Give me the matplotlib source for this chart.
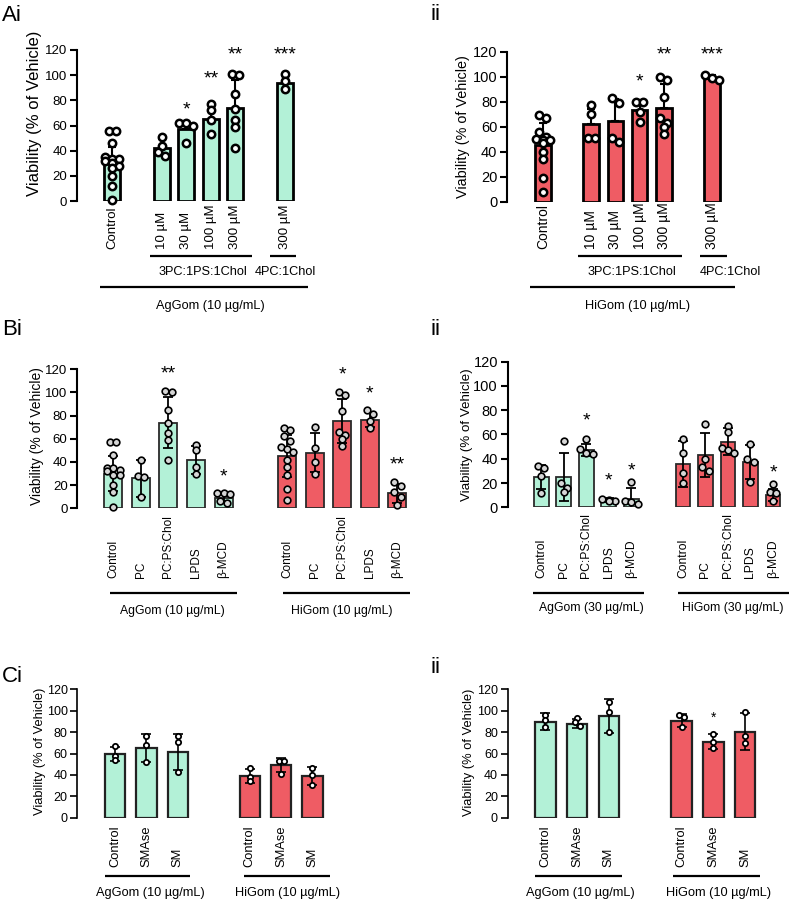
import matplotlib.pyplot as plt
from matplotlib.transforms import blended_transform_factory

plt.rcParams['font.family'] = ['Liberation Sans', 'DejaVu Sans']

W, H = 790, 901
MINT = '#b3f1d7'
RED = '#ef5c64'

# ---------------- data ----------------
a_labels = ['Control', '10 µM', '30 µM', '100 µM', '300 µM', '300 µM']
a_pos = [0, 2, 3, 4, 5, 7]

ai_mean = [30, 42, 57, 65, 74, 94]
ai_sd = [13, 7, 6, 11, 22, 6]
ai_pts = [[56, 56, 46, 35, 33, 33, 32, 30, 28, 26, 20, 12, 1],
          [51, 44, 39, 36],
          [62, 62, 60, 46],
          [77, 72, 64, 53],
          [101, 100, 85, 73, 64, 59, 42],
          [101, 95, 89]]
ai_stars = ['', '', '*', '**', '**', '***']
ai_star_y = [0, 0, 72, 97, 116, 116]

aii_mean = [45, 62, 64.5, 73, 75, 99]
aii_sd = [18, 12, 18, 8, 19, 2]
aii_pts = [[69, 67, 56, 52, 50, 49, 49, 47, 40, 34, 19, 8],
           [77, 70, 51, 51],
           [83, 79, 51, 48],
           [80, 80, 72, 64],
           [100, 97, 84, 67, 63, 60, 54],
           [101, 99, 97]]
aii_stars = ['', '', '', '*', '**', '***']
aii_star_y = [0, 0, 0, 96, 117, 117]

b_labels = ['Control', 'PC', 'PC:PS:Chol', 'LPDS', 'β-MCD'] * 2
b_pos = [0, 1, 2, 3, 4, 6.3, 7.3, 8.3, 9.3, 10.3]

bi_mean = [30, 26, 74, 42, 9, 45, 48, 75, 76, 13]
bi_sd = [15, 16, 22, 12, 3, 18, 17, 19, 6, 8]
bi_pts = [[57, 57, 46, 35, 35, 33, 32, 29, 29, 20, 14, 1],
          [42, 28, 27, 10],
          [101, 100, 85, 74, 65, 59, 42],
          [55, 50, 36, 30],
          [13, 13, 12, 6, 5],
          [69, 68, 62, 58, 53, 51, 49, 42, 36, 29, 17, 7],
          [70, 52, 40, 30],
          [100, 98, 84, 66, 63, 60, 54],
          [85, 81, 75, 69],
          [23, 19, 14, 10, 3]]
bi_stars = ['', '', '**', '', '*', '', '', '*', '*', '**']
bi_star_y = [0, 0, 116, 0, 27, 0, 0, 115, 99, 37]

bii_mean = [25, 25, 47, 6, 7, 36, 43, 54, 37, 10]
bii_sd = [10, 20, 5, 1.5, 9, 19, 18, 11, 14, 5]
bii_pts = [[34, 32, 26, 12],
           [55, 20, 16, 13],
           [56, 48, 45, 44],
           [7, 6, 5, 5],
           [21, 5, 4, 3],
           [56, 45, 28, 20],
           [69, 40, 33, 30],
           [67, 62, 49, 47, 45],
           [52, 40, 37, 21],
           [19, 13, 12, 5]]
bii_stars = ['', '', '*', '*', '*', '', '', '', '', '*']
bii_star_y = [0, 0, 71, 22, 30, 0, 0, 0, 0, 28]

c_labels = ['Control', 'SMAse', 'SM'] * 2
c_pos = [0, 1, 2, 4.3, 5.3, 6.3]

ci_mean = [59.5, 65, 61.5, 39, 49, 39]
ci_sd = [6.5, 13, 16.5, 6.5, 6.5, 8.6]
ci_pts = [[67, 58, 54], [76, 68, 52], [76, 71, 43],
          [46, 38, 34], [53, 53, 41], [46, 40, 31]]
ci_stars = ['', '', '', '', '', '']
ci_star_y = [0, 0, 0, 0, 0, 0]

cii_mean = [89.5, 88, 95, 90.5, 71, 80.5]
cii_sd = [8, 4, 15.6, 6, 7, 17]
cii_pts = [[96, 91, 85], [93, 89, 86], [108, 99, 80],
           [96, 94, 85], [78, 71, 65], [99, 76, 70]]
cii_stars = ['', '', '', '', '*', '']
cii_star_y = [0, 0, 0, 0, 93, 0]

fig = plt.figure(figsize=(W / 100, H / 100), dpi=100)


def fy(ypx):
    return 1 - ypx / H


def spread(vals, xstep, vstep):
    # group points of similar value (max 3) and lay each group out side by side
    order = sorted(range(len(vals)), key=lambda i: -vals[i])
    groups, cur = [], []
    for i in order:
        if cur and (vals[cur[0]] - vals[i] > vstep * 0.75 or len(cur) == 3):
            groups.append(cur)
            cur = []
        cur.append(i)
    groups.append(cur)
    offs = [0] * len(vals)
    for g in groups:
        k = len(g)
        for j, i in enumerate(g):
            offs[i] = (j - (k - 1) / 2) * xstep * 0.95
    return offs


def panel(geo, pos, labels, mean, sd, pts, stars, star_y, colors, st):
    xax, y0, y120, step, xmin, xmax = geo
    ax = fig.add_axes([xax / W, fy(y0), (xmax - xmin) * step / W, (y0 - y120) / H])
    ax.set_xlim(xmin, xmax)
    ax.set_ylim(0, 120)
    for s in ['top', 'right', 'bottom']:
        ax.spines[s].set_visible(False)
    ax.spines['left'].set_linewidth(st['spine'])
    ax.set_yticks(range(0, 121, 20))
    ax.tick_params(axis='y', length=5, width=st['spine'], pad=2, labelsize=st['tick'])
    ax.set_xticks([])

    ax.bar(pos, mean, width=0.65, color=colors, edgecolor=st['edge'],
           linewidth=st['blw'], zorder=2)
    if st['up_only']:
        yerr = [[0] * len(sd), sd]
    else:
        yerr = sd
    ax.errorbar(pos, mean, yerr=yerr, fmt='none', ecolor='black',
                elinewidth=st['elw'], capsize=st['cap'], capthick=st['elw'], zorder=3)

    mpx = st['ms'] * 100 / 72
    xstep = mpx / step
    vstep = mpx / ((y0 - y120) / 120)
    for x, p in zip(pos, pts):
        offs = spread(p, xstep, vstep)
        ax.plot([x + o for o in offs], p, 'o', ms=st['ms'], mfc=st['mfc'], mec='black',
                mew=st['mew'], zorder=4, clip_on=False)

    for x, s, y in zip(pos, stars, star_y):
        if s:
            ax.text(x, y, s, ha='center', va='center', fontsize=st['star'])

    tr = blended_transform_factory(ax.transData, fig.transFigure)
    for x, lab in zip(pos, labels):
        ax.text(x, fy(st['lab_y']), lab, rotation=90, ha='center', va='bottom',
                fontsize=st['lab'], transform=tr)
    return ax, tr


def bracket(ax, tr, x0, x1, ypx, label, xc, typx, fs):
    ax.plot([x0, x1], [fy(ypx), fy(ypx)], color='black', lw=1.6, transform=tr,
            clip_on=False, solid_capstyle='butt')
    ax.text(xc, fy(typx), label, ha='center', va='center', fontsize=fs, transform=tr)


def ylabel(xpx, ypx, fs):
    fig.text(xpx / W, fy(ypx), 'Viability (% of Vehicle)', rotation=90,
             ha='center', va='center', fontsize=fs)


style_a = dict(spine=1.5, tick=9.5, blw=2.0, edge='black', up_only=True, elw=1.5,
               cap=2.8, ms=5.3, mfc='white', mew=1.8, star=14, lab=9.5, lab_y=249)
style_b = dict(spine=1.5, tick=9.5, blw=1.3, edge='#2a2a2a', up_only=False, elw=1.3,
               cap=3.5, ms=4.8, mfc='#d6d6d6', mew=1.2, star=14, lab=8.5, lab_y=578)
style_c = dict(spine=1.2, tick=9, blw=1.6, edge='#222222', up_only=False, elw=1.2,
               cap=3.5, ms=3.8, mfc='white', mew=1.3, star=10, lab=9.3, lab_y=867)

# ---- Ai ----
ax, tr = panel((77, 201, 50, 24.6, -1.44, 7.6), a_pos, a_labels, ai_mean, ai_sd,
               ai_pts, ai_stars, ai_star_y, [MINT] * 6, style_a)
bracket(ax, tr, 1.52, 5.67, 256, '3PC:1PS:1Chol', 3.66, 272, 9.2)
bracket(ax, tr, 6.4, 7.47, 256, '4PC:1Chol', 7.03, 272, 9.2)
bracket(ax, tr, -0.51, 7.94, 287, 'AgGom (10 µg/mL)', 4.0, 306, 9.2)
ylabel(35, 113, 12)

# ---- Aii ----
ax, tr = panel((507, 201.7, 51.7, 24.2, -1.48, 7.6), a_pos, a_labels, aii_mean, aii_sd,
               aii_pts, aii_stars, aii_star_y, [RED] * 6, dict(style_a, tick=10.5, lab=10))
bracket(ax, tr, 1.45, 5.75, 256, '3PC:1PS:1Chol', 3.67, 272, 9.2)
bracket(ax, tr, 6.5, 7.6, 256, '4PC:1Chol', 7.74, 272, 9.2)
bracket(ax, tr, -0.53, 7.94, 287, 'HiGom (10 µg/mL)', 3.93, 306, 9.2)
ylabel(463, 127, 10.4)

# ---- Bi ----
ax, tr = panel((77.3, 508.3, 369.3, 27.6, -1.3, 10.8), b_pos, b_labels, bi_mean, bi_sd,
               bi_pts, bi_stars, bi_star_y, [MINT] * 5 + [RED] * 5, style_b)
bracket(ax, tr, -0.12, 4.47, 593, 'AgGom (10 µg/mL)', 2.16, 611, 8.8)
bracket(ax, tr, 6.16, 10.76, 593, 'HiGom (10 µg/mL)', 8.27, 611, 8.8)
ylabel(37, 436, 10)

# ---- Bii ----
ax, tr = panel((507.7, 507.3, 361.7, 22.5, -1.49, 10.8), b_pos, b_labels, bii_mean, bii_sd,
               bii_pts, bii_stars, bii_star_y, [MINT] * 5 + [RED] * 5,
               dict(style_b, tick=10.5, lab=8.7))
bracket(ax, tr, -0.36, 4.58, 593, 'AgGom (30 µg/mL)', 2.22, 608, 8.8)
bracket(ax, tr, 6.06, 11.0, 593, 'HiGom (30 µg/mL)', 8.53, 608, 8.8)
ylabel(467, 435, 9.6)

# ---- Ci ----
ax, tr = panel((77.3, 817.7, 689.3, 31.3, -1.21, 6.8), c_pos, c_labels, ci_mean, ci_sd,
               ci_pts, ci_stars, ci_star_y, [MINT] * 3 + [RED] * 3, style_c)
bracket(ax, tr, -0.33, 2.39, 876, 'AgGom (10 µg/mL)', 1.12, 893, 9.2)
bracket(ax, tr, 4.12, 6.86, 876, 'HiGom (10 µg/mL)', 5.51, 893, 9.2)
ylabel(40, 751, 9.3)

# ---- Cii ----
ax, tr = panel((507.7, 817.7, 689.3, 31.7, -1.19, 6.8), c_pos, c_labels, cii_mean, cii_sd,
               cii_pts, cii_stars, cii_star_y, [MINT] * 3 + [RED] * 3, style_c)
bracket(ax, tr, -0.32, 2.41, 876, 'AgGom (10 µg/mL)', 1.1, 893, 9.2)
bracket(ax, tr, 4.04, 6.77, 876, 'HiGom (10 µg/mL)', 5.46, 893, 9.2)
ylabel(469, 752, 9.3)

# panel letters
for txt, x, y in [('Ai', 2, 21), ('ii', 430, 20), ('Bi', 2, 335), ('ii', 430, 335),
                  ('Ci', 2, 682), ('ii', 430, 673)]:
    fig.text(x / W, fy(y), txt, fontsize=16, ha='left', va='baseline')

fig.savefig('out.png', dpi=100)
